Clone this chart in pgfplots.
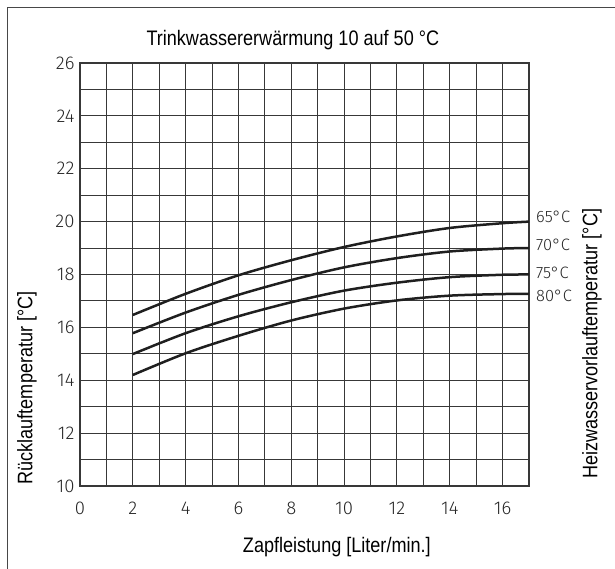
\documentclass[border=0pt]{standalone}
\usepackage{pgfplots}
\pgfplotsset{compat=1.18}
\usepackage{fontspec}
\setmainfont{Liberation Sans}[FakeStretch=0.86]
\newfontfamily\lightfont{Fira Sans Light}

\begin{document}
\begin{tikzpicture}[x=1pt,y=1pt]
\useasboundingbox (0,0) rectangle (615,569);
% partial page frame (top and left)
\draw[line width=1.6pt, black!72] (7.5,0) -- (7.5,561.5) -- (615,561.5);
\begin{axis}[
  at={(80pt,83pt)}, anchor=south west,
  scale only axis, width=449pt, height=423pt,
  xmin=0, xmax=17, ymin=10, ymax=26,
  xtick={0,2,...,16}, ytick={10,12,...,26},
  minor tick num=1,
  grid=both,
  grid style={line width=1.1pt, black!78},
  minor grid style={line width=1.1pt, black!78},
  axis line style={line width=1.1pt, black!78},
  major tick length=0pt, minor tick length=0pt,
  /pgf/number format/assume math mode=true,
  tick label style={font=\lightfont\fontsize{18.5}{21}\selectfont, black!85},
  xticklabel style={yshift=-12pt},
  yticklabel style={xshift=-2pt},
  label style={font=\fontsize{21}{24}\selectfont},
  xlabel={Zapfleistung [Liter/min.]},
  xlabel style={at={(axis description cs:0.572,-0.145)}, anchor=center},
  ylabel={Rücklauftemperatur [°C]},
  ylabel style={at={(axis description cs:-0.118,0.232)}, anchor=center, rotate=0},
  clip=false,
]
% Heizwasservorlauftemperatur 65 °C
\addplot[black!88, line width=2.5pt, smooth] coordinates {(2,16.47) (4,17.27) (6,17.97) (8,18.54) (10,19.04) (12,19.44) (14,19.76) (16,19.94) (17,20.00)};
% 70 °C
\addplot[black!88, line width=2.5pt, smooth] coordinates {(2,15.78) (4,16.56) (6,17.23) (8,17.79) (10,18.27) (12,18.62) (14,18.87) (16,18.98) (17,19.00)};
% 75 °C
\addplot[black!88, line width=2.5pt, smooth] coordinates {(2,14.99) (4,15.78) (6,16.42) (8,16.95) (10,17.39) (12,17.69) (14,17.90) (16,17.99) (17,18.00)};
% 80 °C
\addplot[black!88, line width=2.5pt, smooth] coordinates {(2,14.20) (4,15.02) (6,15.68) (8,16.26) (10,16.71) (12,17.02) (14,17.20) (16,17.26) (17,17.27)};

\begin{scope}[every node/.style={anchor=west, inner sep=0pt, xshift=7pt, font=\lightfont\fontsize{16.5}{19}\selectfont, black!85}]
\node at (axis cs:17,20.18) {65°C};
\node at (axis cs:17,19.11) {70°C};
\node at (axis cs:17,18.08) {75°C};
\node at (axis cs:17,17.20) {80°C};
\end{scope}

\node[font=\fontsize{21}{24}\selectfont, anchor=center] at (axis description cs:0.474,1.054) {Trinkwassererwärmung 10 auf 50 °C};
\node[font=\fontsize{21}{24}\selectfont, anchor=center, rotate=90] at (axis description cs:1.140,0.336) {Heizwasservorlauftemperatur [°C]};
\end{axis}
\end{tikzpicture}
\end{document}
